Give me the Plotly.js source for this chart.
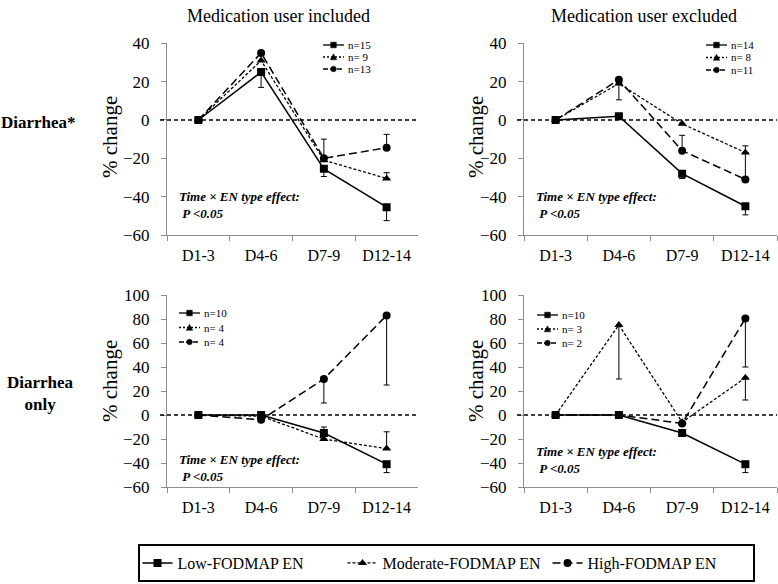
<!DOCTYPE html>
<html>
<head>
<meta charset="utf-8">
<script src="https://cdn.plot.ly/plotly-3.0.1.min.js"></script>
<style>
html, body {margin: 0; padding: 0; background: #fff;}
#chart {width: 778px; height: 584px;}
</style>
</head>
<body>
<div id="chart"></div>
<script>
"use strict";

const W = 778, H = 584;
const FONT = 'Liberation Serif, Times New Roman, Times, serif';

// DATA
const periods = ['D1-3', 'D4-6', 'D7-9', 'D12-14'];
const groups = ['Low-FODMAP EN', 'Moderate-FODMAP EN', 'High-FODMAP EN'];

// Diarrhea*, medication user included
const diarIncLow = [0, 25, -25.5, -45.5];
const diarIncMod = [0, 31, -21, -30.5];
const diarIncHigh = [0, 35, -20, -14.5];
// one-sided SE bars: positive = drawn up, negative = drawn down
const diarIncLowErr = [0, -8, -4, -7];
const diarIncModErr = [0, 0, 0, 3];
const diarIncHighErr = [0, 0, 10, 7];
const diarIncN = ['n=15', 'n= 9', 'n=13'];

// Diarrhea*, medication user excluded
const diarExcLow = [0, 2, -28, -45];
const diarExcMod = [0, 19, -2, -17];
const diarExcHigh = [0, 21, -16, -31];
const diarExcLowErr = [0, 0, -2.5, -4.5];
const diarExcModErr = [0, -8.5, 0, 0];
const diarExcHighErr = [0, 0, 8, 17.5];
const diarExcN = ['n=14', 'n= 8', 'n=11'];

// Diarrhea only, medication user included
const onlyIncLow = [0, 0, -15, -41];
const onlyIncMod = [0, -1, -20, -28];
const onlyIncHigh = [0, -4, 30, 83];
const onlyIncLowErr = [0, 0, 5, -7];
const onlyIncModErr = [0, 0, 0, 14];
const onlyIncHighErr = [0, 0, -20, -58];
const onlyIncN = ['n=10', 'n= 4', 'n= 4'];

// Diarrhea only, medication user excluded
const onlyExcLow = [0, 0, -15, -41];
const onlyExcMod = [0, 75, -6, 31];
const onlyExcHigh = [0, 0, -7, 80.5];
const onlyExcLowErr = [0, 0, 0, -7];
const onlyExcModErr = [0, -45, 0, -18.5];
const onlyExcHighErr = [0, 0, 0, -40.5];
const onlyExcN = ['n=10', 'n= 3', 'n= 2'];

//STYLES
const styles = [
	{dash: 'solid', symbol: 'square', width: 1.5},
	{dash: '3px,2px', symbol: 'triangle-up', width: 1.3},
	{dash: '8px,4px', symbol: 'circle', width: 1.5}
];

// panel setup: axes, data, key position in px [x, y, row gap]
const panels = [
	{xa: 'x', ya: 'y', means: [diarIncLow, diarIncMod, diarIncHigh],
		errs: [diarIncLowErr, diarIncModErr, diarIncHighErr], ns: diarIncN, key: [323, 45, 12], leg: true},
	{xa: 'x2', ya: 'y2', means: [diarExcLow, diarExcMod, diarExcHigh],
		errs: [diarExcLowErr, diarExcModErr, diarExcHighErr], ns: diarExcN, key: [706, 45, 12.5]},
	{xa: 'x3', ya: 'y3', means: [onlyIncLow, onlyIncMod, onlyIncHigh],
		errs: [onlyIncLowErr, onlyIncModErr, onlyIncHighErr], ns: onlyIncN, key: [179, 313, 14.5]},
	{xa: 'x4', ya: 'y4', means: [onlyExcLow, onlyExcMod, onlyExcHigh],
		errs: [onlyExcLowErr, onlyExcModErr, onlyExcHighErr], ns: onlyExcN, key: [537, 315, 14]}
];

const px = v => v / W;
const py = v => 1 - v / H;

//TRACES
const traces = [];
for(const p of panels){
	for(let i = 0; i < 3; i++){
		const e = p.errs[i];
		traces.push({
			type: 'scatter', mode: 'lines+markers',
			x: periods, y: p.means[i],
			xaxis: p.xa, yaxis: p.ya,
			name: groups[i], legendgroup: groups[i],
			showlegend: !!p.leg,
			line: {color: 'black', width: styles[i].width, dash: styles[i].dash},
			marker: {symbol: styles[i].symbol, size: 8, color: 'black'},
			error_y: {
				type: 'data', symmetric: false,
				array: e.map(v => Math.max(v, 0)),
				arrayminus: e.map(v => Math.max(-v, 0)),
				color: 'black', thickness: 1, width: 3
			}
		});
	}
}

//SHAPES & ANNOTATIONS
const shapes = [], notes = [];

function markerShape(i, cx, cy){
	const r = 2.8;
	const base = {xref: 'paper', yref: 'paper', fillcolor: 'black', line: {color: 'black', width: 0.5}};
	if(i == 0){
		return Object.assign(base, {type: 'rect', x0: px(cx-r), x1: px(cx+r), y0: py(cy+r), y1: py(cy-r)});
	}
	if(i == 2){
		return Object.assign(base, {type: 'circle', x0: px(cx-r), x1: px(cx+r), y0: py(cy+r), y1: py(cy-r)});
	}
	const path = `M${px(cx-r-0.4)},${py(cy+r)} L${px(cx+r+0.4)},${py(cy+r)} L${px(cx)},${py(cy-r-0.4)} Z`;
	return Object.assign(base, {type: 'path', path: path});
}

function panelKey(p){
	const [kx, ky, gap] = p.key;
	p.ns.forEach((lab, i) => {
		const y = ky + i*gap;
		shapes.push({type: 'line', xref: 'paper', yref: 'paper',
			x0: px(kx), x1: px(kx+21), y0: py(y), y1: py(y),
			line: {color: 'black', width: 1.3, dash: i == 0 ? 'solid' : (i == 1 ? '2px,2px' : '5px,2px')}});
		shapes.push(markerShape(i, kx+10.5, y));
		notes.push({xref: 'paper', yref: 'paper', x: px(kx+23), y: py(y),
			xanchor: 'left', yanchor: 'middle', showarrow: false, text: lab,
			font: {family: FONT, size: 11, color: 'black'}});
	});
}
panels.forEach(panelKey);

// dashed zero reference lines, starting just left of the y axis
const zeroLines = [['y', 160, 418], ['y2', 517, 777], ['y3', 160, 418], ['y4', 517, 777]];
for(const [ya, a, b] of zeroLines){
	shapes.push({type: 'line', xref: 'paper', yref: ya, x0: px(a), x1: px(b), y0: 0, y1: 0,
		line: {color: 'black', width: 1.4, dash: '4px,3px'}});
}

function text(x, y, t, size, opts={}){
	notes.push(Object.assign({xref: 'paper', yref: 'paper', x: px(x), y: py(y), text: t,
		showarrow: false, xanchor: 'center', yanchor: 'middle',
		font: {family: FONT, size: size, color: 'black'}}, opts));
}

text(278, 16, 'Medication user included', 18);
text(644, 16, 'Medication user excluded', 18);
text(38, 122, '<b>Diarrhea*</b>', 17);
text(40, 393, '<b>Diarrhea<br>only</b>', 17);
text(110, 137, '% change', 21, {textangle: -90});
text(110, 381, '% change', 21, {textangle: -90});
text(476, 137, '% change', 21, {textangle: -90});
text(476, 381, '% change', 21, {textangle: -90});

const effect = '<b><i>Time \u00d7 EN type effect:<br>\u00a0P &lt;0.05</i></b>';
text(177, 205, effect, 13, {xanchor: 'left', align: 'left'});
text(534, 205, effect, 13, {xanchor: 'left', align: 'left'});
text(177, 468, effect, 13, {xanchor: 'left', align: 'left'});
text(534, 460, effect, 13, {xanchor: 'left', align: 'left'});

//AXES
function xAxis(dom, anchor){
	return {
		domain: dom, anchor: anchor, type: 'category', categoryarray: periods,
		range: [-0.5, 3.5], tickson: 'boundaries', ticks: 'outside', ticklen: 5,
		tickcolor: '#8c8c8c', showline: true, linecolor: '#8c8c8c', linewidth: 1,
		showgrid: false, zeroline: false, fixedrange: true,
		tickfont: {family: FONT, size: 16, color: 'black'}, ticklabelstandoff: 6
	};
}
function yAxis(dom, anchor, range){
	return {
		domain: dom, anchor: anchor, range: range, dtick: 20,
		ticks: 'outside', ticklen: 5, tickcolor: '#8c8c8c',
		showline: true, linecolor: '#8c8c8c', linewidth: 1,
		showgrid: false, zeroline: false, fixedrange: true,
		tickfont: {family: FONT, size: 17, color: 'black'}, ticklabelstandoff: 8
	};
}

const leftX = [px(167), px(418)], rightX = [px(524), px(777)];
const topY = [py(235), py(43.3)], botY = [py(487), py(295)];

const layout = {
	width: W, height: H,
	margin: {l: 0, r: 0, t: 0, b: 0},
	paper_bgcolor: 'white', plot_bgcolor: 'white',
	font: {family: FONT, color: 'black'},
	xaxis: xAxis(leftX, 'y'),
	yaxis: yAxis(topY, 'x', [-60, 40]),
	xaxis2: xAxis(rightX, 'y2'),
	yaxis2: yAxis(topY, 'x2', [-60, 40]),
	xaxis3: xAxis(leftX, 'y3'),
	yaxis3: yAxis(botY, 'x3', [-60, 100]),
	xaxis4: xAxis(rightX, 'y4'),
	yaxis4: yAxis(botY, 'x4', [-60, 100]),
	showlegend: true,
	legend: {
		orientation: 'h', x: px(446), xanchor: 'center', y: py(563), yanchor: 'middle',
		bordercolor: 'black', borderwidth: 2, bgcolor: 'white',
		entrywidth: 160, entrywidthmode: 'pixels',
		font: {family: FONT, size: 16, color: 'black'}
	},
	shapes: shapes,
	annotations: notes
};

Plotly.newPlot('chart', traces, layout, {displayModeBar: false, staticPlot: true});
</script>
</body>
</html>
